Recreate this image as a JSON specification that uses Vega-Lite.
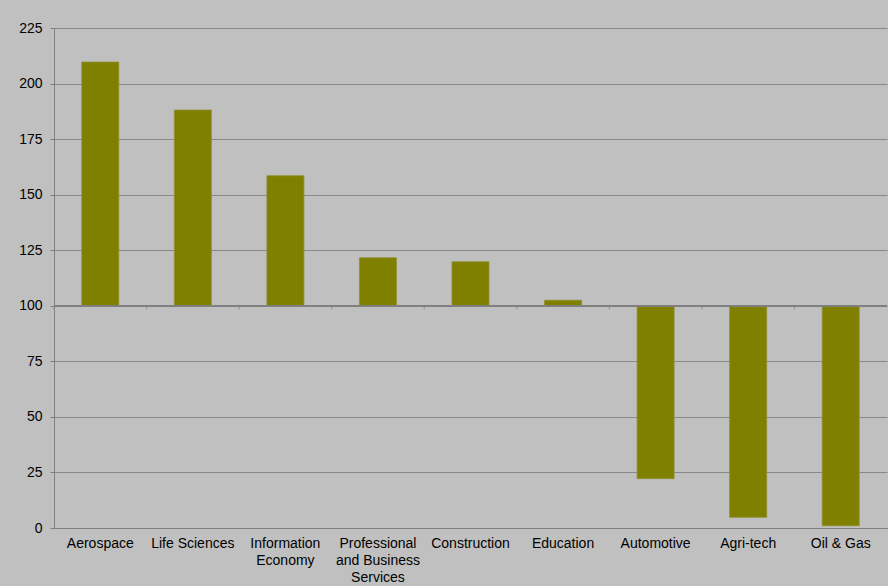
{
  "$schema": "https://vega.github.io/schema/vega-lite/v6.json",
  "width": 833,
  "height": 500,
  "autosize": {"type": "none"},
  "padding": {"left": 54, "top": 28, "right": 1, "bottom": 58},
  "background": "#C0C0C0",
  "config": {
    "view": {"stroke": null},
    "font": "Liberation Sans"
  },
  "data": {
    "values": [
      {"sector": "Aerospace", "value": 209.7},
      {"sector": "Life Sciences", "value": 188.1},
      {"sector": "Information Economy", "value": 158.5},
      {"sector": "Professional and Business Services", "value": 121.6},
      {"sector": "Construction", "value": 119.8},
      {"sector": "Education", "value": 102.5},
      {"sector": "Automotive", "value": 22.2},
      {"sector": "Agri-tech", "value": 4.8},
      {"sector": "Oil & Gas", "value": 1.0}
    ]
  },
  "layer": [
    {
      "mark": {"type": "bar", "color": "#808000", "stroke": "#8f8f30", "strokeWidth": 0.8},
      "encoding": {
        "x": {
          "field": "sector",
          "type": "nominal",
          "sort": null,
          "scale": {"paddingInner": 0.6, "paddingOuter": 0.3},
          "axis": {
            "title": null,
            "labelAngle": 0,
            "labelFontSize": 14,
            "labelColor": "#000000",
            "labelPadding": 8,
            "labelLineHeight": 17,
            "labelLimit": 0,
            "ticks": false,
            "domainColor": "#808080",
            "labelExpr": "datum.value == 'Information Economy' ? ['Information', 'Economy'] : datum.value == 'Professional and Business Services' ? ['Professional', 'and Business', 'Services'] : datum.value"
          }
        },
        "y": {
          "field": "value",
          "type": "quantitative",
          "scale": {"domain": [0, 225], "nice": false},
          "axis": {
            "title": null,
            "values": [0, 25, 50, 75, 100, 125, 150, 175, 200, 225],
            "labelFontSize": 14,
            "labelColor": "#000000",
            "labelPadding": 8,
            "tickSize": 4,
            "tickColor": "#808080",
            "domainColor": "#808080",
            "gridColor": "#888888",
            "gridWidth": 1
          }
        },
        "y2": {"datum": 100}
      }
    },
    {
      "mark": {"type": "rule", "color": "#808080", "strokeWidth": 1},
      "encoding": {
        "y": {"datum": 100}
      }
    },
    {
      "mark": {"type": "tick", "orient": "vertical", "color": "#808080", "size": 4, "thickness": 1, "yOffset": 2},
      "encoding": {
        "x": {"field": "sector", "type": "nominal", "sort": null, "bandPosition": -0.75},
        "y": {"datum": 100}
      }
    }
  ]
}
